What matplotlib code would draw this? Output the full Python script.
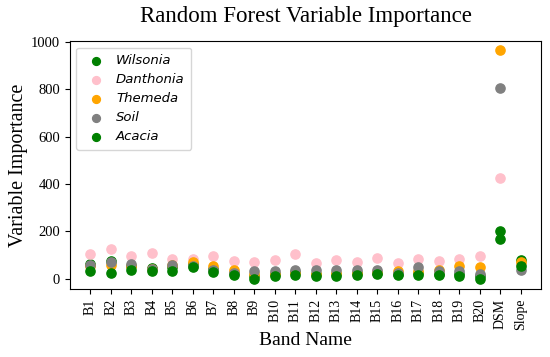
import matplotlib
matplotlib.use("Agg")
import matplotlib.pyplot as plt

bands = ["B1","B2","B3","B4","B5","B6","B7","B8","B9","B10","B11","B12","B13","B14","B15","B16","B17","B18","B19","B20","DSM","Slope"]
wilsonia  = [62, 73, 55, 45, 50, 62, 40, 25, 10, 20, 28, 18, 20, 22, 25, 20, 25, 20, 18, 10, 202, 78]
danthonia = [103, 127, 97, 106, 83, 83, 95, 73, 68, 79, 105, 66, 78, 68, 89, 64, 83, 73, 82, 97, 427, 60]
themeda   = [55, 59, 55, 40, 56, 68, 55, 35, 20, 20, 25, 20, 25, 25, 28, 32, 30, 38, 55, 48, 967, 68]
soil      = [59, 68, 61, 40, 56, 55, 35, 25, 32, 30, 38, 35, 38, 35, 35, 25, 47, 32, 30, 18, 806, 38]
acacia    = [32, 25, 38, 31, 34, 49, 28, 14, -4, 10, 16, 10, 11, 14, 18, 16, 16, 16, 11, -4, 167, 52]

series = [("Wilsonia", wilsonia, "green"), ("Danthonia", danthonia, "pink"),
          ("Themeda", themeda, "orange"), ("Soil", soil, "grey"), ("Acacia", acacia, "green")]

fig = plt.figure(figsize=(5.5, 3.57), dpi=100)
ax = fig.add_axes([0.127, 0.19, 0.857, 0.695])
x = list(range(len(bands)))
for name, vals, col in series:
    ax.scatter(x, vals, s=44, color=col, label=name, zorder=3)

serif = "Liberation Serif"
ax.set_xlim(-1, len(bands))
ax.set_ylim(-45, 1005)
ax.set_xticks(x)
ax.set_xticklabels(bands, rotation=90, fontfamily=serif, fontsize=10)
ax.set_yticks([0, 200, 400, 600, 800, 1000])
for lab in ax.get_yticklabels():
    lab.set_fontfamily(serif)
    lab.set_fontsize(10.5)
ax.set_xlabel("Band Name", fontfamily=serif, fontsize=14, labelpad=1)
ax.set_ylabel("Variable Importance", fontfamily=serif, fontsize=14.5, labelpad=2)
ax.set_title("Random Forest Variable Importance", fontfamily=serif, fontsize=16.5, pad=14)
leg = ax.legend(loc="upper left", prop={"style": "italic", "size": 9.5}, handletextpad=0.5,
                borderpad=0.5, labelspacing=0.45, markerscale=0.85)
fig.savefig("out.png", dpi=100)
